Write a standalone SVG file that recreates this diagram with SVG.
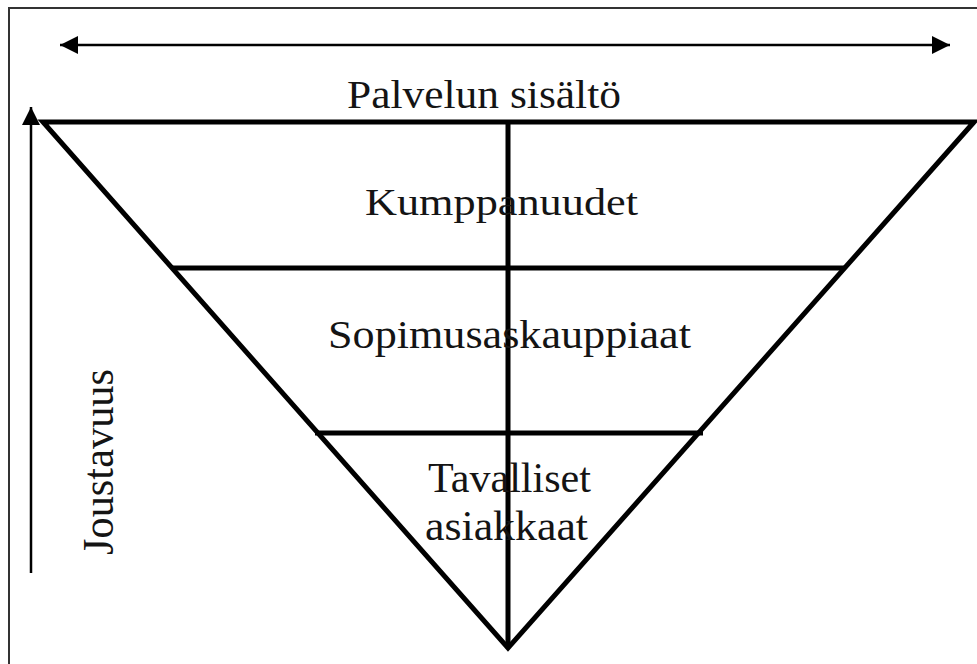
<svg xmlns="http://www.w3.org/2000/svg" width="977" height="664" viewBox="0 0 977 664">
  <style>
    .frame { fill: none; stroke: #333; stroke-width: 2; }
    .tri { fill: none; stroke: #000; stroke-width: 5; stroke-linejoin: miter; stroke-linecap: butt; }
    .axis { fill: none; stroke: #000; stroke-width: 2.5; }
    .lbl { font-family: "Liberation Serif", "Times New Roman", serif; fill: #141414; }
  </style>
  <defs>
    <marker id="head" viewBox="0 0 18 18" refX="18" refY="9" markerWidth="18" markerHeight="18" markerUnits="userSpaceOnUse" orient="auto-start-reverse">
      <path d="M0,0 L18,9 L0,18 Z" fill="#000"/>
    </marker>
  </defs>

  <rect width="977" height="664" fill="#fff"/>

  <!-- page frame: only top and left edges are visible -->
  <path class="frame" d="M9,664 V8 H977"/>

  <!-- axes -->
  <g id="connectors">
    <line class="axis" x1="60" y1="45" x2="950" y2="45" marker-start="url(#head)" marker-end="url(#head)"/>
    <line class="axis" x1="31" y1="573" x2="31" y2="107" marker-end="url(#head)"/>
  </g>

  <!-- inverted pyramid -->
  <g id="pyramid">
    <path class="tri" d="M43,122 H974 L508,648 Z"/>
    <line class="tri" x1="508" y1="122" x2="508" y2="648"/>
    <line class="tri" x1="172" y1="268" x2="845" y2="268"/>
    <line class="tri" x1="315" y1="433" x2="703" y2="433"/>
  </g>

  <g id="label-top">
    <text class="lbl" x="347" y="108" font-size="39" textLength="274" lengthAdjust="spacingAndGlyphs">Palvelun sisältö</text>
  </g>
  <g id="tier-kumppanuudet">
    <text class="lbl" x="365" y="215" font-size="38" textLength="273" lengthAdjust="spacingAndGlyphs">Kumppanuudet</text>
  </g>
  <g id="tier-sopimus">
    <text class="lbl" x="328" y="348" font-size="39" textLength="363" lengthAdjust="spacingAndGlyphs">Sopimusaskauppiaat</text>
  </g>
  <g id="tier-tavalliset">
    <text class="lbl" x="428" y="492" font-size="42" textLength="163" lengthAdjust="spacingAndGlyphs">Tavalliset</text>
    <text class="lbl" x="425" y="540" font-size="42" textLength="163" lengthAdjust="spacingAndGlyphs">asiakkaat</text>
  </g>
  <g id="label-side">
    <text class="lbl" transform="translate(113,555) rotate(-90)" x="0" y="0" font-size="44" textLength="186" lengthAdjust="spacingAndGlyphs">Joustavuus</text>
  </g>
</svg>
